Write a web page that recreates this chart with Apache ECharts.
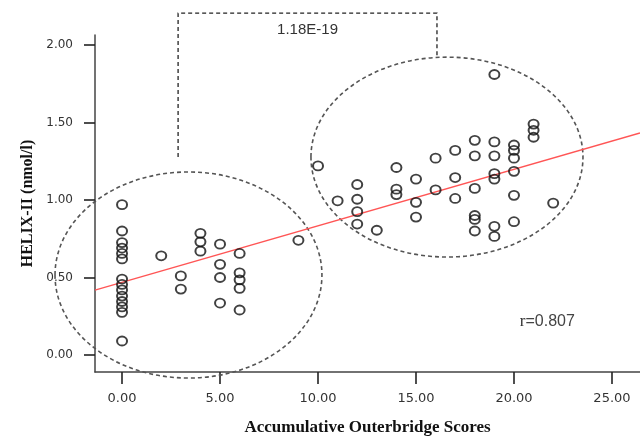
<!DOCTYPE html>
<html><head><meta charset="utf-8">
<script src="https://cdn.jsdelivr.net/npm/echarts@6/dist/echarts.min.js"></script>
<style>html,body{margin:0;padding:0;background:#fff}#c{width:640px;height:436px}</style>
</head><body><div id="c"></div>
<script>
// Accumulative Outerbridge score (x) and HELIX-II nmol/l (y), one entry per subject
const scoreX = [
  0,0,0,0,0,0,0,0,0,0,0,0,0,0,
  2,
  3,3,
  4,4,4,
  5,5,5,5,
  6,6,6,6,6,
  9,
  10,
  11,
  12,12,12,12,
  13,
  14,14,14,
  15,15,15,
  16,16,
  17,17,17,
  18,18,18,18,18,18,
  19,19,19,19,19,19,19,
  20,20,20,20,20,20,
  21,21,21,
  22
];
const helixY = [
  0.97,0.80,0.725,0.69,0.655,0.62,0.49,0.455,0.42,0.38,0.345,0.31,0.275,0.09,
  0.64,
  0.51,0.425,
  0.785,0.73,0.67,
  0.715,0.585,0.50,0.335,
  0.655,0.53,0.485,0.43,0.29,
  0.74,
  1.22,
  0.995,
  1.10,1.005,0.925,0.845,
  0.805,
  1.21,1.07,1.035,
  1.135,0.985,0.89,
  1.27,1.065,
  1.32,1.145,1.01,
  1.385,1.285,1.075,0.90,0.875,0.80,
  1.81,1.375,1.285,1.17,1.135,0.83,0.765,
  1.355,1.32,1.27,1.185,1.03,0.86,
  1.49,1.45,1.405,
  0.98
];
const xTicks = [0, 5, 10, 15, 20, 25];
const yTicks = [0, 0.5, 1.0, 1.5, 2.0];
const xRange = [-1.38, 26.43];
const yRange = [-0.11, 2.065];
const fitIntercept = 0.468;
const fitSlope = 0.0365;
// cluster ellipses in data units
const ellipseCenterX = [3.39, 16.58];
const ellipseCenterY = [0.516, 1.277];
const ellipseRadiusX = [6.81, 6.94];
const ellipseRadiusY = [0.665, 0.645];
// comparison bracket (data units)
const bracketX = [2.86, 16.07];
const bracketBottomY = [1.277, 1.935];
const bracketTopY = 2.206;
const bracketLabel = '1.18E-19';
const bracketLabelY = 2.097;
const rLabel = ['r', '=0.807'];
const rLabelPos = [20.3, 0.213];

const chart = echarts.init(document.getElementById('c'), null, {renderer: 'canvas'});
const points = scoreX.map((x, i) => [x, helixY[i]]);
const fitLine = xRange.map(x => [x, fitIntercept + fitSlope * x]);
const ellipseData = ellipseCenterX.map((cx, i) => [cx, ellipseCenterY[i], ellipseRadiusX[i], ellipseRadiusY[i]]);

const axisColor = '#444';
const nameFontBase = {fontFamily: 'Liberation Serif', fontWeight: 'bold', color: '#111'};

chart.setOption({
  animation: false,
  backgroundColor: '#fff',
  grid: {left: 95, top: 35, right: 0, bottom: 64, containLabel: false, outerBoundsMode: 'none'},
  xAxis: {
    type: 'value', min: xRange[0], max: xRange[1],
    name: 'Accumulative Outerbridge Scores', nameLocation: 'middle', nameGap: 47,
    nameTextStyle: Object.assign({fontSize: 17}, nameFontBase),
    splitLine: {show: false},
    axisLine: {onZero: false, lineStyle: {color: axisColor, width: 1.5}},
    axisTick: {show: true, length: 12, customValues: xTicks, lineStyle: {color: '#222', width: 1.6}},
    axisLabel: {customValues: xTicks, margin: 20, formatter: v => Number(v).toFixed(2),
      fontFamily: 'DejaVu Sans', fontSize: 13, color: '#333'}
  },
  yAxis: {
    type: 'value', min: yRange[0], max: yRange[1],
    name: 'HELIX-II (nmol/l)', nameLocation: 'middle', nameGap: 58, nameRotate: 90,
    nameTextStyle: Object.assign({fontSize: 16}, nameFontBase),
    splitLine: {show: false},
    axisLine: {onZero: false, lineStyle: {color: axisColor, width: 1.5}},
    axisTick: {show: true, length: 11, customValues: yTicks, lineStyle: {color: '#222', width: 1.6}},
    axisLabel: {customValues: yTicks, margin: 22, formatter: v => Number(v).toFixed(2),
      fontFamily: 'DejaVu Sans', fontSize: 12, color: '#333'}
  },
  series: [
    {
      type: 'custom', clip: false, silent: true, z: 1,
      data: ellipseData,
      renderItem: (params, api) => {
        const c = api.coord([api.value(0), api.value(1)]);
        const s = api.size([api.value(2), api.value(3)]);
        return {type: 'ellipse', shape: {cx: c[0], cy: c[1], rx: s[0], ry: s[1]},
          style: {fill: null, stroke: '#555', lineWidth: 1.6, lineDash: [4, 3]}};
      }
    },
    {
      type: 'custom', clip: false, silent: true, z: 1,
      data: [[bracketX[0], bracketX[1]]],
      renderItem: (params, api) => {
        const p1 = api.coord([bracketX[0], bracketBottomY[0]]);
        const p2 = api.coord([bracketX[0], bracketTopY]);
        const p3 = api.coord([bracketX[1], bracketTopY]);
        const p4 = api.coord([bracketX[1], bracketBottomY[1]]);
        const t = api.coord([(bracketX[0] + bracketX[1]) / 2, bracketLabelY]);
        const r = api.coord(rLabelPos);
        return {type: 'group', children: [
          {type: 'polyline', shape: {points: [p1, p2, p3, p4]},
            style: {fill: null, stroke: '#222', lineWidth: 1.3, lineDash: [4, 3]}},
          {type: 'text', x: t[0], y: t[1], style: {text: bracketLabel, fill: '#333',
            font: '15px "Liberation Sans", Arial, sans-serif', align: 'center', verticalAlign: 'middle'}},
          {type: 'text', x: r[0], y: r[1], style: {
            text: '{a|' + rLabel[0] + '}{b|' + rLabel[1] + '}', align: 'left', verticalAlign: 'middle',
            rich: {a: {fontFamily: 'Liberation Serif', fontSize: 17, fill: '#333'},
                   b: {fontFamily: 'Liberation Sans', fontSize: 16, fill: '#444'}}}}
        ]};
      }
    },
    {
      type: 'line', data: fitLine, showSymbol: false, silent: true, z: 2,
      lineStyle: {color: '#f55', width: 1.3}
    },
    {
      type: 'scatter', data: points, symbol: 'circle', symbolSize: [10, 9], z: 3,
      itemStyle: {color: 'rgba(0,0,0,0)', borderColor: '#111', borderWidth: 1.9}
    }
  ]
});
</script>
</body></html>
